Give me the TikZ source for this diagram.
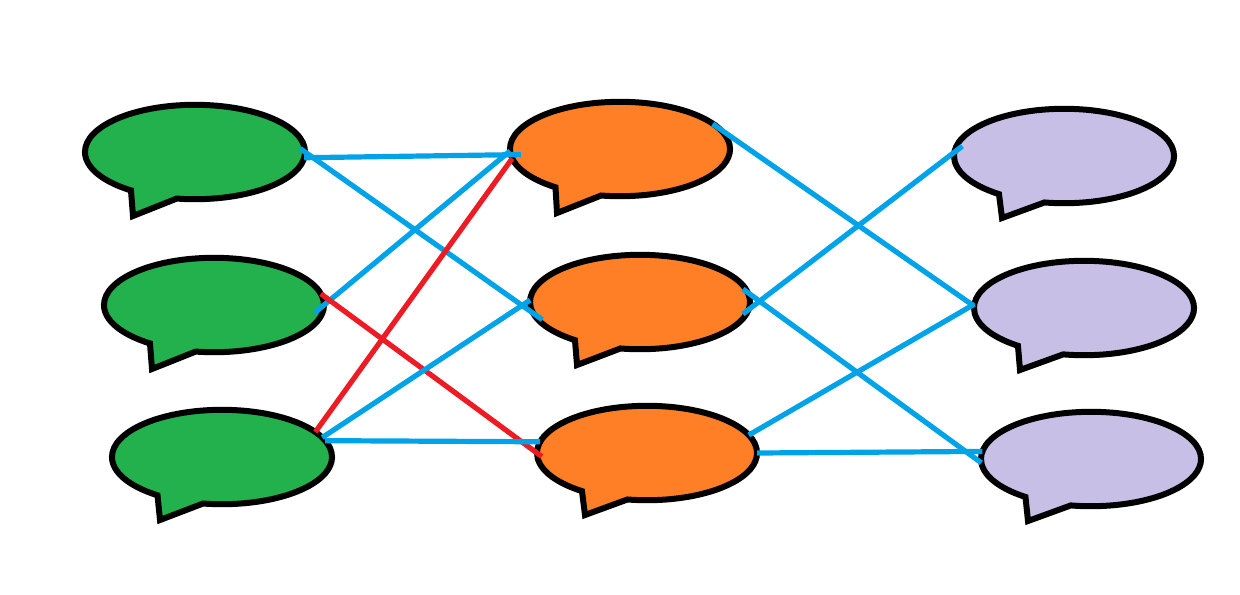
\documentclass[tikz,border=0pt]{standalone}
\usepackage{xcolor}
\usepackage{tikz}
\usetikzlibrary{shapes.callouts}
\definecolor{paintgreen}{HTML}{22B14C}
\definecolor{paintorange}{HTML}{FF7F27}
\definecolor{paintlilac}{HTML}{C8BFE7}
\definecolor{paintblue}{HTML}{00A2E8}
\definecolor{paintred}{HTML}{ED1C24}
\begin{document}
\begin{tikzpicture}[x=0.025cm, y=-0.025cm,
        bubble/.style={ellipse callout, draw=black, line width=0.15cm, minimum width=5.5cm, minimum height=2.36cm, inner sep=0pt, outer sep=0pt, callout pointer arc=26},
        inbubble/.style={bubble, fill=paintgreen},
        midbubble/.style={bubble, fill=paintorange},
        outbubble/.style={bubble, fill=paintlilac},
        link/.style={draw=paintblue, line width=0.13cm},
        badlink/.style={link, draw=paintred}]
        \useasboundingbox (0,0) rectangle (1240,594);
        \node [inbubble, callout absolute pointer={(133,216)}] (g1) at (195,152) {};
        \node [inbubble, callout absolute pointer={(152,369)}] (g2) at (214,305) {};
        \node [inbubble, callout absolute pointer={(160,520)}] (g3) at (222,457) {};
        \node [midbubble, callout absolute pointer={(557,213)}] (o1) at (620,149) {};
        \node [midbubble, callout absolute pointer={(577,365)}] (o2) at (640,302) {};
        \node [midbubble, callout absolute pointer={(585,515)}] (o3) at (647,453) {};
        \node [outbubble, callout absolute pointer={(1002,218)}] (l1) at (1064,156) {};
        \node [outbubble, callout absolute pointer={(1020,370)}] (l2) at (1084,308) {};
        \node [outbubble, callout absolute pointer={(1028,521)}] (l3) at (1091,459) {};
        \draw [link, shorten >=-0.25cm] (g1.-3) -- (o1.183);
        \draw [link, shorten <=-0.15cm, shorten >=-0.28cm] (g1.0) -- (o2.186);
        \draw [link, shorten <=-0.3cm] (g2.0) -- (o1.181);
        \draw [badlink, shorten >=-0.15cm] (g2.6) -- (o3.180);
        \draw [badlink] (g3.15) -- (o1.185);
        \draw [link] (g3.11) -- (o2.179);
        \draw [link] (g3.9) -- (o3.174);
        \draw [link, shorten <=-0.18cm] (o1.12) -- (l2.179);
        \draw [link, shorten <=-0.18cm, shorten >=-0.25cm] (o2.-4) -- (l1.178);
        \draw [link, shorten <=-0.15cm] (o2.5) -- (l3.182);
        \draw [link] (o3.10) -- (l2.178);
        \draw [link] (o3.0) -- (l3.176);
\end{tikzpicture}
\end{document}
